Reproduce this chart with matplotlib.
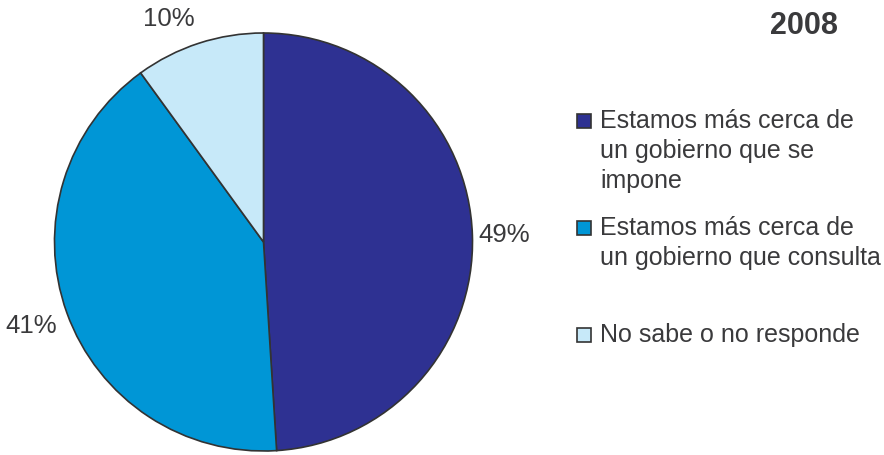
import matplotlib
matplotlib.use('Agg')
import matplotlib.pyplot as plt
from matplotlib.patches import Rectangle

plt.rcParams['font.family'] = ['Liberation Sans', 'DejaVu Sans']

title = '2008'
labels = ['Estamos más cerca de\nun gobierno que se\nimpone',
          'Estamos más cerca de\nun gobierno que consulta',
          'No sabe o no responde']
values = [49, 41, 10]
colors = ['#2E3192', '#0096D6', '#C7E9F9']

W, H = 884, 456
text_color = '#3a3a3c'
fs = 18.5

fig = plt.figure(figsize=(W / 100, H / 100), dpi=100)

# pie: centre (263.5, 243) px from top-left, radius 209 px
cx, cy, r = 263.5, 243, 209
ax = fig.add_axes([(cx - r) / W, (H - cy - r) / H, 2 * r / W, 2 * r / H])
wedges, texts, autotexts = ax.pie(
    values, colors=colors, startangle=90, counterclock=False,
    autopct='%.0f%%', pctdistance=1.17,
    wedgeprops=dict(edgecolor='#333333', linewidth=1.2),
    textprops=dict(fontsize=fs, color=text_color))
ax.set_xlim(-1, 1)
ax.set_ylim(-1, 1)
ax.set_aspect('equal')
ax.axis('off')

# small nudges of the percent labels (in pie radius units)
nudges = [(-0.02, 0.0), (-0.01, 0.0), (-0.09, -0.04)]
for t, (dx, dy) in zip(autotexts, nudges):
    x, y = t.get_position()
    t.set_position((x + dx, y + dy))

fig.text(804 / W, 1 - 26 / H, title, fontsize=22, fontweight='bold',
         color=text_color, ha='center', va='center')

# legend drawn by hand so the marker sits on the first line
# (the long second label runs off the right edge, as in the original)
baselines = [128, 235, 342]
line_gap = 30
for lab, col, yb in zip(labels, colors, baselines):
    fig.patches.append(Rectangle((577 / W, 1 - (yb + 1) / H), 14 / W, 14 / H,
                                 transform=fig.transFigure, facecolor=col,
                                 edgecolor='#333333', linewidth=1.2))
    for i, line in enumerate(lab.split('\n')):
        fig.text(600 / W, 1 - (yb + i * line_gap) / H, line, fontsize=18,
                 color=text_color, ha='left', va='baseline')

fig.savefig('out.png', dpi=100)
